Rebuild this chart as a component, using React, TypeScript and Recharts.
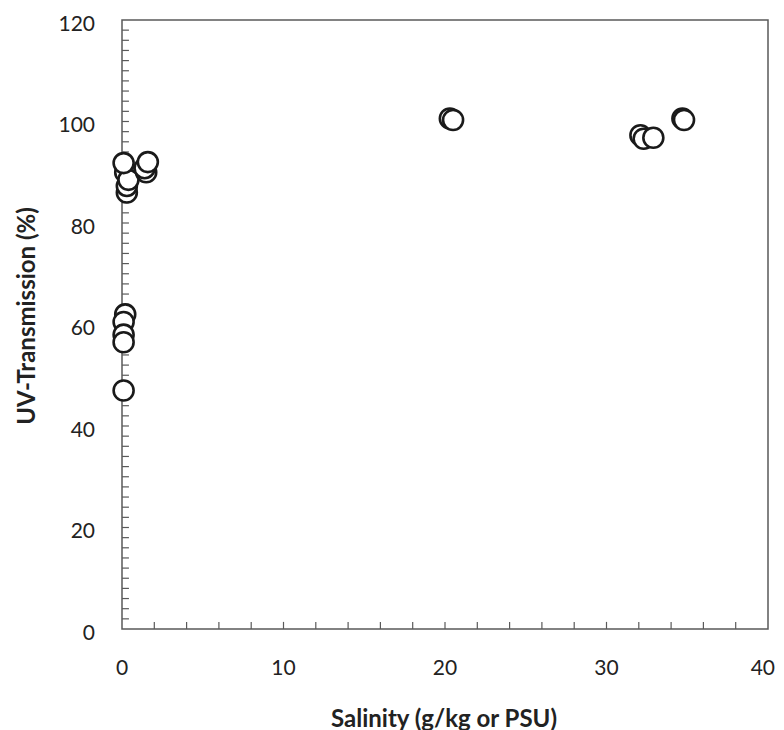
import * as React from "react";
import { ScatterChart, Scatter, XAxis, YAxis, ReferenceArea, ReferenceLine, Label } from "recharts";

const salinity = [0.1, 0.2, 0.1, 0.1, 0.1, 0.2, 0.3, 0.3, 0.4, 0.1, 1.5, 1.4, 1.6, 20.3, 20.5, 32.1, 32.3, 32.9, 34.7, 34.8];
const uvTransmission = [47, 62, 60.5, 58, 56.5, 90, 86, 87.3, 88.5, 91.8, 90, 90.8, 92, 100.6, 100.3, 97.3, 96.6, 96.8, 100.6, 100.3];

const xLabels = [0, 10, 20, 30, 40];
const yLabels = [0, 20, 40, 60, 80, 100, 120];
const xMinor = [2, 4, 6, 8, 10, 12, 14, 16, 18, 20, 22, 24, 26, 28, 30, 32, 34, 36, 38];
const yMinor = [2, 4, 6, 8, 10, 12, 14, 16, 18, 20, 22, 24, 26, 28, 30, 32, 34, 36, 38, 40, 42, 44, 46, 48, 50, 52, 54, 56, 58, 60, 62, 64, 66, 68, 70, 72, 74, 76, 78, 80, 82, 84, 86, 88, 90, 92, 94, 96, 98, 100, 102, 104, 106, 108, 110, 112, 114, 116, 118];

const points = salinity.map((s, i) => ({ x: s, y: uvTransmission[i] }));

const axisColor = "#5a5a5a";
const font = "Lato, 'Open Sans', sans-serif";

const Marker = (props: any) => {
  const { cx, cy } = props;
  return <circle cx={cx} cy={cy} r={10} fill="#fff" stroke="#1a1a1a" strokeWidth={2.6} />;
};

const YTickLabel = (props: any) => {
  const { x, y, payload } = props;
  return (
    <text x={x} y={y + 2} textAnchor="end" dominantBaseline="central" fontSize={21} fill="#222" fontFamily={font}>
      {payload.value}
    </text>
  );
};

const XTickLabel = (props: any) => {
  const { x, y, payload } = props;
  // last label would run past the right edge, so pin it there
  const last = payload.value === 40;
  return (
    <text
      x={last ? x + 7 : x}
      y={y}
      textAnchor={last ? "end" : "middle"}
      dominantBaseline="central"
      fontSize={21}
      fill="#222"
      fontFamily={font}
    >
      {payload.value}
    </text>
  );
};

export default function App() {
  return (
    <div style={{ width: 776, height: 722 }}>
      <style>{"#root { width: max-content; } .recharts-surface { overflow: visible; }"}</style>
      <ScatterChart width={776} height={722} margin={{ top: 12, right: 16, left: 0, bottom: 0 }}>
        <XAxis
          type="number"
          dataKey="x"
          domain={[0, 40]}
          ticks={xLabels}
          interval={0}
          tick={<XTickLabel />}
          tickLine={false}
          tickSize={0}
          tickMargin={37}
          height={101}
          axisLine={false}
        >
          <Label
            content={() => (
              <text x={436} y={709} textAnchor="middle" dominantBaseline="central" fontSize={24} fontWeight="bold" fill="#222" fontFamily={font}>
                Salinity (g/kg or PSU)
              </text>
            )}
          />
        </XAxis>
        <YAxis
          type="number"
          dataKey="y"
          domain={[0, 120]}
          ticks={yLabels}
          interval={0}
          tick={<YTickLabel />}
          tickLine={false}
          tickSize={0}
          tickMargin={27}
          width={114}
          axisLine={false}
        >
          <Label
            content={() => (
              <text
                x={17}
                y={308}
                textAnchor="middle"
                dominantBaseline="central"
                fontSize={24}
                fontWeight="bold"
                fill="#222"
                fontFamily={font}
                transform="rotate(-90 17 308)"
              >
                UV-Transmission (%)
              </text>
            )}
          />
        </YAxis>
        <ReferenceArea x1={0} x2={40} y1={0} y2={120} fill="none" stroke={axisColor} strokeWidth={1.5} ifOverflow="visible" />
        {xMinor.map((v) => (
          <ReferenceLine key={"x" + v} segment={[{ x: v, y: 0 }, { x: v, y: 1.4 }]} stroke={axisColor} strokeWidth={1.2} />
        ))}
        {yMinor.map((v) => (
          <ReferenceLine key={"y" + v} segment={[{ x: 0, y: v }, { x: 0.43, y: v }]} stroke={axisColor} strokeWidth={1.2} />
        ))}
        <Scatter data={points} shape={<Marker />} isAnimationActive={false} />
      </ScatterChart>
    </div>
  );
}
